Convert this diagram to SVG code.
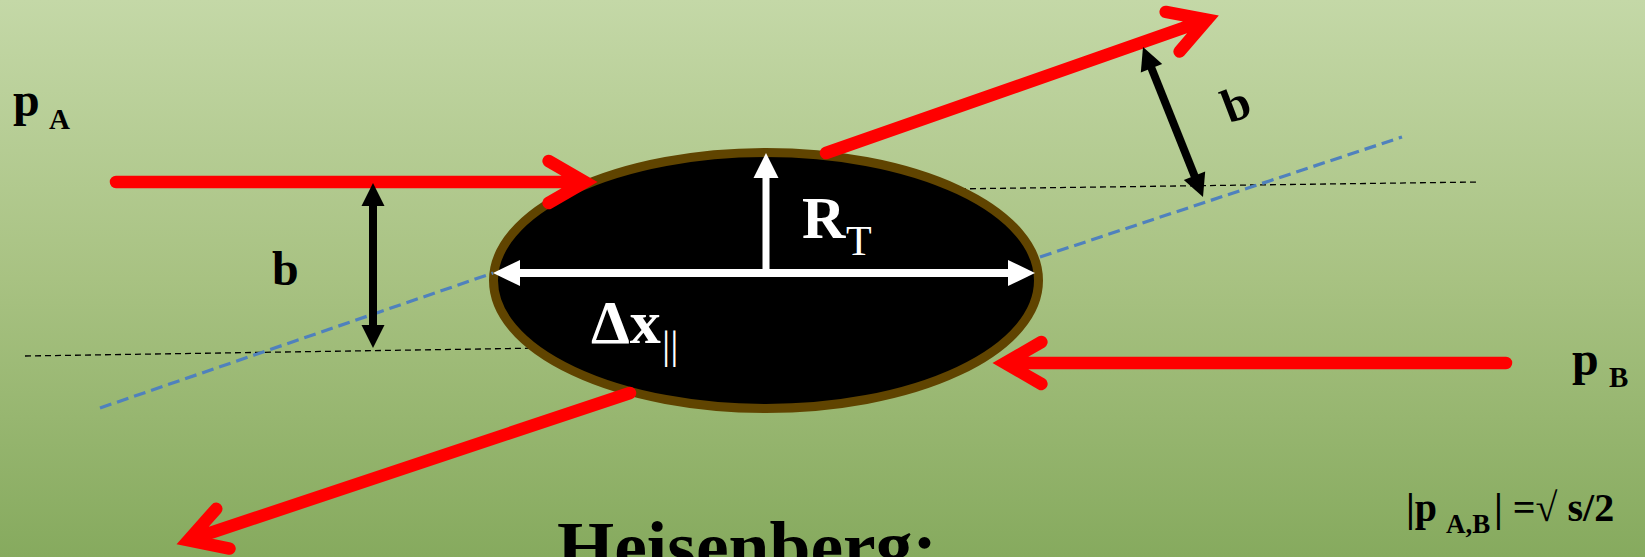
<svg xmlns="http://www.w3.org/2000/svg" width="1645" height="557" viewBox="0 0 1645 557">
<defs>
<linearGradient id="bg" x1="0" y1="0" x2="0" y2="1">
<stop offset="0" stop-color="#c4d8a7"/>
<stop offset="0.5" stop-color="#a8c282"/>
<stop offset="1" stop-color="#86aa5e"/>
</linearGradient>
<style>
.red{fill:none;stroke:#ff0000;stroke-width:12.5;stroke-linecap:round;stroke-linejoin:miter;stroke-miterlimit:10}
.blk{fill:none;stroke:#000;stroke-width:8}
.wht{fill:none;stroke:#fff;stroke-width:8}
.thin{fill:none;stroke:#000;stroke-width:1.3;stroke-dasharray:6 4}
.blue{fill:none;stroke:#4f81bd;stroke-width:3.2;stroke-dasharray:12 6}
.lbl{font-family:"Liberation Serif","Times New Roman",serif;font-weight:bold;fill:#000}
.wlbl{font-family:"Liberation Serif","Times New Roman",serif;fill:#fff}
</style>
</defs>
<rect width="1645" height="557" fill="url(#bg)"/>

<g id="connectors">
<line class="thin" x1="25" y1="356" x2="545" y2="348"/>
<line class="thin" x1="950" y1="189" x2="1478" y2="182"/>
</g>

<g id="target">
<ellipse cx="766" cy="280.5" rx="272.5" ry="128" fill="#000" stroke="#604400" stroke-width="9"/>
</g>

<g id="axes">
<line class="blue" x1="100" y1="408" x2="493" y2="273"/>
<line class="blue" x1="1040" y1="257" x2="1402" y2="137"/>
<line class="wht" x1="518" y1="273" x2="1010" y2="273"/>
<polygon fill="#fff" points="493,273 520,260 520,286"/>
<polygon fill="#fff" points="1035,273 1008,260 1008,286"/>
<line class="wht" style="stroke-width:7" x1="766" y1="176" x2="766" y2="277"/>
<polygon fill="#fff" points="766,153 753.5,178 778.5,178"/>
</g>

<g id="label-RT">
<text class="wlbl" x="802" y="238" font-size="60" font-weight="bold">R</text>
<text class="wlbl" x="846" y="255" font-size="42">T</text>
</g>
<g id="label-dx">
<text class="wlbl" x="591" y="343" font-size="62" font-weight="bold">Δx</text>
<text class="wlbl" x="662" y="358" font-size="41">||</text>
</g>

<g id="beams">
<path class="red" d="M116,182 L585,182 M548.6,161 L585,182 L548.6,203"/>
<path class="red" d="M1506,363 L1005,363 M1041.4,342 L1005,363 L1041.4,384"/>
<path class="red" d="M826,153 L1207,19.7 M1165.7,11.9 L1207,19.7 L1179.6,51.5"/>
<path class="red" d="M630,393 L188.4,540.2 M229.5,548.6 L188.4,540.2 L216.3,508.8"/>
</g>

<g id="impact-left">
<line class="blk" x1="373" y1="204" x2="373" y2="327"/>
<polygon fill="#000" points="373,183 361.5,206 384.5,206"/>
<polygon fill="#000" points="373,348 361.5,325 384.5,325"/>
</g>
<g id="impact-right">
<line class="blk" x1="1150.8" y1="66.5" x2="1195.2" y2="177.5"/>
<polygon fill="#000" points="1143,47 1162.2,64 1140.8,72.6"/>
<polygon fill="#000" points="1203,197 1205.2,171.4 1183.8,180"/>
</g>

<g id="label-pA">
<text class="lbl" x="13" y="116" font-size="48">p</text>
<text class="lbl" x="49" y="129" font-size="29">A</text>
</g>
<g id="label-pB">
<text class="lbl" x="1572" y="375" font-size="48">p</text>
<text class="lbl" x="1609" y="387" font-size="29">B</text>
</g>
<g id="label-b-left">
<text class="lbl" x="272" y="285" font-size="48">b</text>
</g>
<g id="label-b-right">
<text class="lbl" x="0" y="16" font-size="48" text-anchor="middle" transform="translate(1236,104) rotate(-21)">b</text>
</g>
<g id="label-formula">
<text class="lbl" x="1406" y="521" font-size="40">|p<tspan x="1446" y="533" font-size="27">A,B</tspan><tspan x="1494" y="521">| =√ s/2</tspan></text>
</g>
<g id="label-heisenberg">
<text class="lbl" x="557" y="571" font-size="72" textLength="380" lengthAdjust="spacingAndGlyphs">Heisenberg:</text>
</g>
</svg>
